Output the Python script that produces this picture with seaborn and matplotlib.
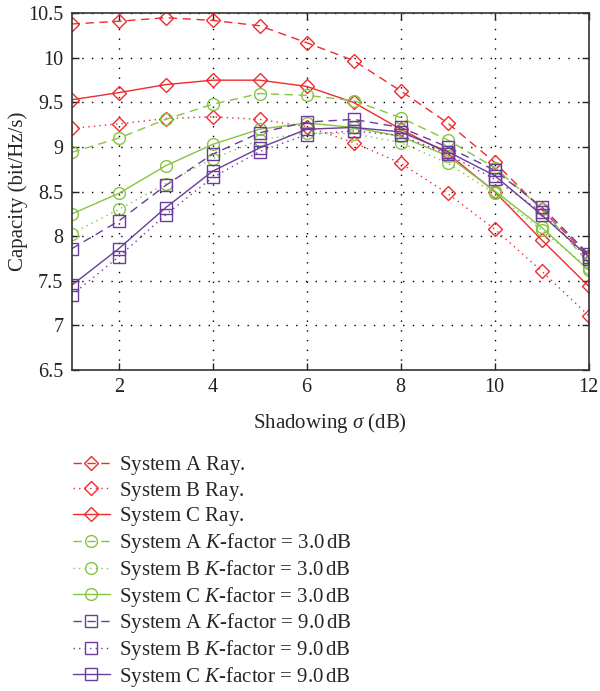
import numpy as np
import pandas as pd
import matplotlib
matplotlib.use("Agg")
import matplotlib.pyplot as plt
import seaborn as sns

# datos
sigma = [1, 2, 3, 4, 5, 6, 7, 8, 9, 10, 11, 12]

a_ray = [10.38, 10.41, 10.45, 10.42, 10.36, 10.17, 9.97, 9.63, 9.27, 8.83, 8.30, 7.78]
b_ray = [9.21, 9.26, 9.32, 9.34, 9.31, 9.23, 9.05, 8.82, 8.48, 8.08, 7.61, 7.11]
c_ray = [9.53, 9.61, 9.70, 9.75, 9.75, 9.68, 9.50, 9.20, 8.93, 8.50, 7.96, 7.44]
a_k3 = [8.94, 9.10, 9.31, 9.48, 9.60, 9.58, 9.52, 9.33, 9.08, 8.77, 8.31, 7.70]
b_k3 = [8.03, 8.30, 8.59, 8.87, 9.08, 9.16, 9.15, 9.05, 8.82, 8.48, 8.07, 7.64]
c_k3 = [8.25, 8.48, 8.79, 9.03, 9.20, 9.27, 9.22, 9.12, 8.90, 8.51, 8.10, 7.62]
a_k9 = [7.86, 8.17, 8.57, 8.92, 9.16, 9.28, 9.31, 9.22, 9.00, 8.74, 8.33, 7.80]
b_k9 = [7.34, 7.77, 8.24, 8.66, 8.95, 9.14, 9.18, 9.13, 8.92, 8.64, 8.27, 7.74]
c_k9 = [7.45, 7.86, 8.32, 8.73, 8.99, 9.20, 9.22, 9.17, 8.95, 8.68, 8.24, 7.77]

# el "$\,$" final hace que todas las filas de la leyenda tengan la misma altura
labels = [
    "System A Ray.$\\,$",
    "System B Ray.$\\,$",
    "System C Ray.$\\,$",
    "System A $K$-factor = 3.0$\\,$dB",
    "System B $K$-factor = 3.0$\\,$dB",
    "System C $K$-factor = 3.0$\\,$dB",
    "System A $K$-factor = 9.0$\\,$dB",
    "System B $K$-factor = 9.0$\\,$dB",
    "System C $K$-factor = 9.0$\\,$dB",
]
series = [a_ray, b_ray, c_ray, a_k3, b_k3, c_k3, a_k9, b_k9, c_k9]

y_ticks = [6.5, 7, 7.5, 8, 8.5, 9, 9.5, 10, 10.5]
y_tick_labels = ["6.5", "7", "7.5", "8", "8.5", "9", "9.5", "10", "10.5"]
x_ticks = [2, 4, 6, 8, 10, 12]

red = "#ee2b2f"
green = "#86c441"
purple = "#6a3d9a"
colores = [red, red, red, green, green, green, purple, purple, purple]
estilos = [(0, (6, 4)), (0, (1, 3)), "-"] * 3
marcadores = ["D"] * 3 + ["o"] * 3 + ["s"] * 3
tamanos = [7.5] * 3 + [8.5] * 3 + [8] * 3

sns.set_style("ticks")
plt.rcParams["font.family"] = ["Liberation Serif", "DejaVu Serif"]
plt.rcParams["mathtext.fontset"] = "custom"
plt.rcParams["mathtext.rm"] = "Liberation Serif"
plt.rcParams["mathtext.it"] = "Liberation Serif:italic"

fig = plt.figure(figsize=(6, 6.91), dpi=100)
ax = fig.add_axes([0.1195, 0.4645, 0.8615, 0.5163])

for i in range(len(series)):
    df = pd.DataFrame({"sigma": sigma, "cap": series[i]})
    sns.lineplot(data=df, x="sigma", y="cap", ax=ax, color=colores[i],
                 linestyle=estilos[i], linewidth=1.0, marker=marcadores[i],
                 markersize=tamanos[i], markerfacecolor="none",
                 markeredgecolor=colores[i], markeredgewidth=1.0,
                 label=labels[i])

ax.set_xlim(1, 12)
ax.set_ylim(6.5, 10.5)
ax.set_xticks(x_ticks)
ax.set_xticklabels([str(t) for t in x_ticks], fontsize=14.5)
ax.set_yticks(y_ticks)
ax.set_yticklabels(y_tick_labels, fontsize=14.5)
ax.tick_params(direction="in", top=True, right=True, length=5, width=1,
               colors="#222222", pad=6)
ax.grid(True, color="black", linestyle=(0, (1, 6)), linewidth=1.0)
for s in ax.spines.values():
    s.set_linewidth(1.2)
    s.set_color("#333333")

ax.set_xlabel("Shadowing $\\sigma$ (dB)", fontsize=15, labelpad=10)
ax.set_ylabel("Capacity (bit/Hz/s)", fontsize=15, labelpad=0)

handles, labs = ax.get_legend_handles_labels()
ax.get_legend().remove()
fig.legend(handles, labs, loc="upper left", bbox_to_anchor=(0.121, 0.343),
           frameon=False, fontsize=15, handlelength=1.8, labelspacing=0.13,
           handletextpad=0.45, borderaxespad=0, borderpad=0)

plt.savefig("out.png", dpi=100)
